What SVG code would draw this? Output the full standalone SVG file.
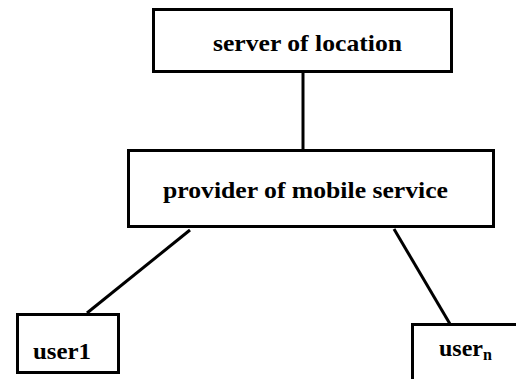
<svg xmlns="http://www.w3.org/2000/svg" width="516" height="379" viewBox="0 0 516 379">
<style>
.box{fill:#fff;stroke:#000;stroke-width:3}
.lbl{font-weight:bold;font-size:24px;fill:#000}
.sub{font-size:16px}
.conn{stroke:#000;stroke-width:3;fill:none}
</style>
<rect width="516" height="379" fill="#fff"/>
<g id="connectors">
<line class="conn" x1="303" y1="73" x2="303" y2="150"/>
<line class="conn" x1="190" y1="230" x2="87" y2="313"/>
<line class="conn" x1="394" y1="229" x2="450" y2="324"/>
</g>
<g font-family="'Liberation Serif', 'DejaVu Serif', 'Times New Roman', serif">
<g id="server">
<rect class="box" x="153.5" y="9.5" width="298" height="62"/>
<text class="lbl" x="213" y="51" textLength="189" lengthAdjust="spacingAndGlyphs">server of location</text>
</g>
<g id="provider">
<rect class="box" x="128.5" y="150.5" width="365" height="76"/>
<text class="lbl" x="163" y="198" textLength="285" lengthAdjust="spacingAndGlyphs">provider of mobile service</text>
</g>
<g id="user1">
<rect class="box" x="17.5" y="314.5" width="101" height="58"/>
<text class="lbl" x="33" y="359" textLength="58" lengthAdjust="spacingAndGlyphs">user1</text>
</g>
<g id="usern">
<rect class="box" x="412.5" y="324.5" width="120" height="70"/>
<text class="lbl" x="439" y="356">user<tspan class="sub" dy="4">n</tspan></text>
</g>
</g>
</svg>
